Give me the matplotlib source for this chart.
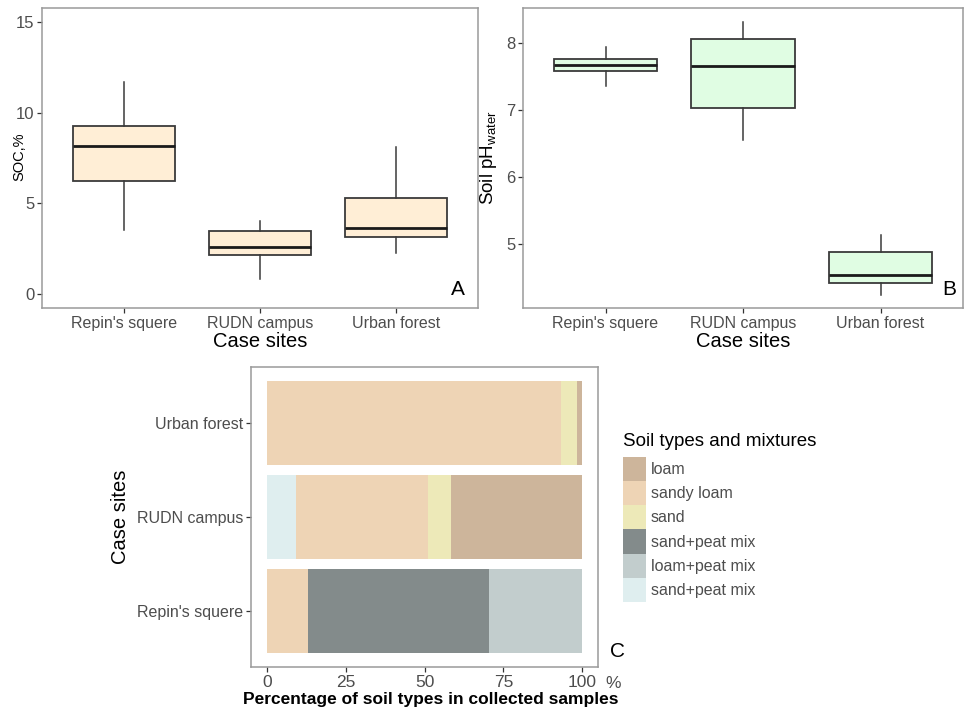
import matplotlib
matplotlib.use("Agg")
import matplotlib.pyplot as plt
from matplotlib.patches import Patch

plt.rcParams['font.family'] = ['Liberation Sans', 'DejaVu Sans']
plt.rcParams['mathtext.default'] = 'regular'

SITES = ["Repin's squere", "RUDN campus", "Urban forest"]

# panel A: SOC, %  (whisker low, q1, median, q3, whisker high)
soc_low = [3.5, 0.8, 2.25]
soc_q1 = [6.2, 2.17, 3.16]
soc_med = [8.15, 2.6, 3.65]
soc_q3 = [9.27, 3.47, 5.3]
soc_high = [11.7, 4.03, 8.12]

# panel B: soil pH water
ph_low = [7.35, 6.55, 4.25]
ph_q1 = [7.58, 7.03, 4.42]
ph_med = [7.67, 7.65, 4.54]
ph_q3 = [7.75, 8.05, 4.88]
ph_high = [7.94, 8.31, 5.14]

# panel C: stacked shares (left to right) per site
soil_names = ["loam", "sandy loam", "sand", "sand+peat mix", "loam+peat mix", "sand+peat mix "]
soil_colors = ["#cdb59b", "#eed4b5", "#ede9b8", "#838b8b", "#c2cdcd", "#dfeeef"]
stack_sites = ["Repin's squere", "RUDN campus", "Urban forest"]
stack_parts = [
    [("sandy loam", 13.2), ("sand+peat mix", 57.4), ("loam+peat mix", 29.4)],
    [("sand+peat mix ", 9.4), ("sandy loam", 41.8), ("sand", 7.1), ("loam", 41.7)],
    [("sandy loam", 93.2), ("sand", 5.1), ("loam", 1.7)],
]

TICK_GREY = "#4d4d4d"
FRAME_GREY = "#9a9a9a"


def style_frame(ax):
    for s in ax.spines.values():
        s.set_color(FRAME_GREY)
        s.set_linewidth(1.1)
    ax.tick_params(colors="#333333", labelcolor=TICK_GREY, length=3.5, width=0.9, pad=2)


def boxpanel(ax, low, q1, med, q3, high, fill):
    stats = []
    for i in range(len(SITES)):
        stats.append(dict(whislo=low[i], q1=q1[i], med=med[i], q3=q3[i], whishi=high[i], fliers=[]))
    ax.bxp(stats, positions=[1, 2, 3], widths=0.75, patch_artist=True, showcaps=False,
           boxprops=dict(facecolor=fill, edgecolor="#3a3a3a", linewidth=1.3),
           whiskerprops=dict(color="#3a3a3a", linewidth=1.1),
           medianprops=dict(color="#1a1a1a", linewidth=2.0))
    ax.set_xlim(0.4, 3.6)
    ax.set_xticks([1, 2, 3])
    ax.set_xticklabels(SITES, fontsize=11.5)
    ax.set_xlabel("Case sites", fontsize=14.5, color="black", labelpad=1)
    style_frame(ax)
    ax.tick_params(axis="y", labelsize=12)


fig = plt.figure(figsize=(9.65, 7.09), dpi=100)

axA = fig.add_axes([0.0435, 0.5656, 0.4518, 0.4231])
boxpanel(axA, soc_low, soc_q1, soc_med, soc_q3, soc_high, "#ffeed6")
axA.set_ylim(-0.78, 15.77)
axA.set_yticks([0, 5, 10, 15])
fig.text(19 / 965, 1 - 157 / 709, "SOC,%", rotation=90, ha="center", va="center",
         fontsize=10.5, color="black")
axA.text(0.97, 0.03, "A", transform=axA.transAxes, ha="right", va="bottom", fontsize=15)

axB = fig.add_axes([0.542, 0.5656, 0.456, 0.4231])
boxpanel(axB, ph_low, ph_q1, ph_med, ph_q3, ph_high, "#e0fde3")
axB.set_ylim(4.052, 8.516)
axB.set_yticks([5, 6, 7, 8])
axB.set_ylabel("Soil pH$_{water}$", fontsize=13.5, color="black", labelpad=5)
axB.text(0.985, 0.03, "B", transform=axB.transAxes, ha="right", va="bottom", fontsize=15)

axC = fig.add_axes([0.2601, 0.0592, 0.3596, 0.4231])
color_of = dict(zip(soil_names, soil_colors))
for yi, parts in enumerate(stack_parts):
    left = 0
    for name, val in parts:
        axC.barh(yi + 1, val, left=left, height=0.9, color=color_of[name], edgecolor="none")
        left += val
axC.set_xlim(-5, 105)
axC.set_ylim(0.4, 3.6)
axC.set_yticks([1, 2, 3])
axC.set_yticklabels(stack_sites, fontsize=11.5)
axC.set_xticks([0, 25, 50, 75, 100])
style_frame(axC)
axC.tick_params(axis="x", labelsize=12.5)
axC.set_ylabel("Case sites", fontsize=14.5, color="black", labelpad=5)
axC.set_xlabel("Percentage of soil types in collected samples", fontsize=12.5,
               fontweight="bold", color="black")
axC.xaxis.set_label_coords(0.519, -0.083)
axC.text(1.02, -0.03, "%", transform=axC.transAxes, ha="left", va="top",
         fontsize=12.5, color=TICK_GREY)
axC.text(1.035, 0.02, "C", transform=axC.transAxes, ha="left", va="bottom", fontsize=15)

# legend, title drawn on its own so the gap above the keys matches
fig.text(623 / 965, 1 - 441 / 709, "Soil types and mixtures", ha="left", va="center",
         fontsize=13.5, color="black")
handles = [Patch(facecolor=c, edgecolor="none", label=n.strip()) for n, c in zip(soil_names, soil_colors)]
leg = fig.legend(handles=handles, loc="upper left", bbox_to_anchor=(623 / 965, 1 - 457 / 709),
                 frameon=False, fontsize=11.5, handlelength=1.45, handleheight=1.95,
                 labelspacing=0.0, handletextpad=0.3, borderpad=0, borderaxespad=0)
for t in leg.get_texts():
    t.set_color(TICK_GREY)

fig.savefig("out.png", dpi=100)
